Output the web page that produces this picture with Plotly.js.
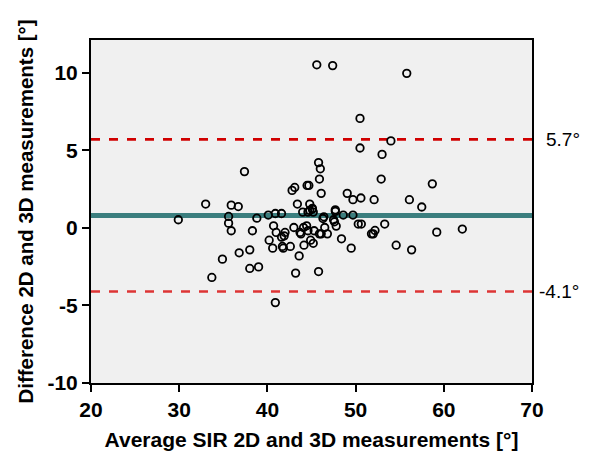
<!DOCTYPE html>
<html><head><meta charset="utf-8">
<script src="https://cdn.plot.ly/plotly-3.0.1.min.js"></script>
<style>html,body{margin:0;padding:0;background:#fff}#chart{width:589px;height:457px}</style>
</head><body><div id="chart"></div>
<script>
// Average of 2D and 3D SIR measurements (deg)
const avgValues = [45.6, 47.4, 55.8, 50.5, 54.0, 50.5, 53.0, 37.4, 45.8, 46.0, 45.9, 52.9, 58.7,
  42.8, 43.1, 44.5, 44.7, 46.1, 49.05, 49.7, 50.6, 52.1, 56.1, 57.5,
  33.0, 35.9, 36.7, 43.4, 44.8, 47.7, 47.7, 45.1,
  29.9, 35.6, 35.6, 35.9, 38.8, 38.3, 40.1, 40.9, 41.6, 40.7, 41.0, 42.0, 41.9, 41.6, 40.2, 43.0,
  44.0, 44.6, 44.8, 45.1, 45.2, 43.7, 43.8, 44.1, 44.45, 44.6, 45.3, 45.9, 44.15, 44.9, 45.2,
  40.6, 41.7, 41.8, 42.6, 38.0, 36.8, 34.9, 43.6, 38.0, 39.0, 43.2, 45.8, 33.7, 40.9,
  48.6, 49.7, 46.4, 46.3, 47.5, 47.6, 47.8, 46.1, 46.5, 46.8, 48.4, 49.5,
  50.3, 50.65, 51.8, 52.0, 52.2, 53.3, 54.6, 56.35, 59.2, 62.1];
// Difference 2D - 3D (deg)
const diffValues = [10.5, 10.45, 9.95, 7.05, 5.6, 5.14, 4.73, 3.62, 4.2, 3.8, 3.14, 3.14, 2.83,
  2.41, 2.6, 2.73, 2.73, 2.22, 2.22, 1.81, 1.92, 1.81, 1.81, 1.34,
  1.53, 1.46, 1.37, 1.53, 1.53, 1.16, 1.06, 1.25,
  0.52, 0.73, 0.3, -0.19, 0.62, -0.19, 0.82, 0.92, 0.92, 0.13, -0.3, -0.3, -0.52, -0.6, -0.8, 0.02,
  1.01, 1.01, 1.12, 1.2, 1.01, -0.3, -0.39, 0.02, 0.13, -0.19, -0.19, -0.39, -1.12, -0.8, -1.0,
  -1.31, -1.2, -1.31, -1.2, -1.42, -1.61, -2.02, -1.81, -2.62, -2.52, -2.92, -2.82, -3.2, -4.82,
  0.82, 0.82, 0.71, 0.6, 0.52, 0.39, 0.11, -0.39, 0.02, -0.39, -0.71, -1.31,
  0.24, 0.24, -0.39, -0.39, -0.17, 0.24, -1.12, -1.42, -0.28, -0.08];
const meanDiff = [0.8];
const upperLoA = [5.7];
const lowerLoA = [-4.1];
const loaLabels = ['5.7°', '-4.1°'];
const xTicks = [20, 30, 40, 50, 60, 70];
const yTicks = [-10, -5, 0, 5, 10];
const xSpan = [20, 70];

const hline = (v, color, width, dash) => ({
  x: xSpan, y: [v, v], mode: 'lines', type: 'scatter', hoverinfo: 'skip',
  line: {color: color, width: width, dash: dash}, showlegend: false
});

const traces = [
  hline(meanDiff[0], '#3b7e7e', 5, 'solid'),
  hline(upperLoA[0], '#d00000', 2.8, 'dash'),
  hline(lowerLoA[0], '#dd3535', 2.4, 'dash'),
  {
    x: avgValues, y: diffValues, mode: 'markers', type: 'scatter', showlegend: false,
    marker: {symbol: 'circle-open', size: 7.5, color: '#000', line: {width: 1.8, color: '#000'}}
  }
];

const FAM = 'Liberation Sans, Arial, sans-serif';
const tickFont = {family: FAM, size: 21, color: '#000', weight: 'bold'};

const layout = {
  width: 589, height: 457,
  margin: {l: 91, r: 57, t: 40, b: 74},
  paper_bgcolor: '#ffffff', plot_bgcolor: '#f0f0f0',
  xaxis: {
    range: xSpan, tickvals: xTicks, ticktext: xTicks.map(String),
    showgrid: false, zeroline: false, showline: true, linecolor: '#000', linewidth: 2, mirror: true,
    ticks: 'outside', ticklen: 7, tickwidth: 2, tickcolor: '#000', tickfont: tickFont,
    title: {text: 'Average SIR 2D and 3D measurements [°]', font: {family: FAM, size: 21, color: '#000', weight: 'bold'}, standoff: 12}
  },
  yaxis: {
    range: [-10, 12.1], tickvals: yTicks, ticktext: yTicks.map(String),
    showgrid: false, zeroline: false, showline: true, linecolor: '#000', linewidth: 2, mirror: true,
    ticks: 'outside', ticklen: 7, tickwidth: 2, tickcolor: '#000', tickfont: tickFont,
    title: {text: 'Difference 2D and 3D measurements [°]', font: {family: FAM, size: 20.5, color: '#000', weight: 'bold'}, standoff: 8}
  },
  annotations: [
    {x: 1, xref: 'paper', xanchor: 'left', xshift: 12, y: upperLoA[0], yref: 'y', yanchor: 'middle',
     text: loaLabels[0], showarrow: false, font: {family: FAM, size: 19, color: '#000'}},
    {x: 1, xref: 'paper', xanchor: 'left', xshift: 5, y: lowerLoA[0], yref: 'y', yanchor: 'middle',
     text: loaLabels[1], showarrow: false, font: {family: FAM, size: 19, color: '#000'}}
  ]
};

Plotly.newPlot('chart', traces, layout, {displayModeBar: false, staticPlot: true});
</script></body></html>
